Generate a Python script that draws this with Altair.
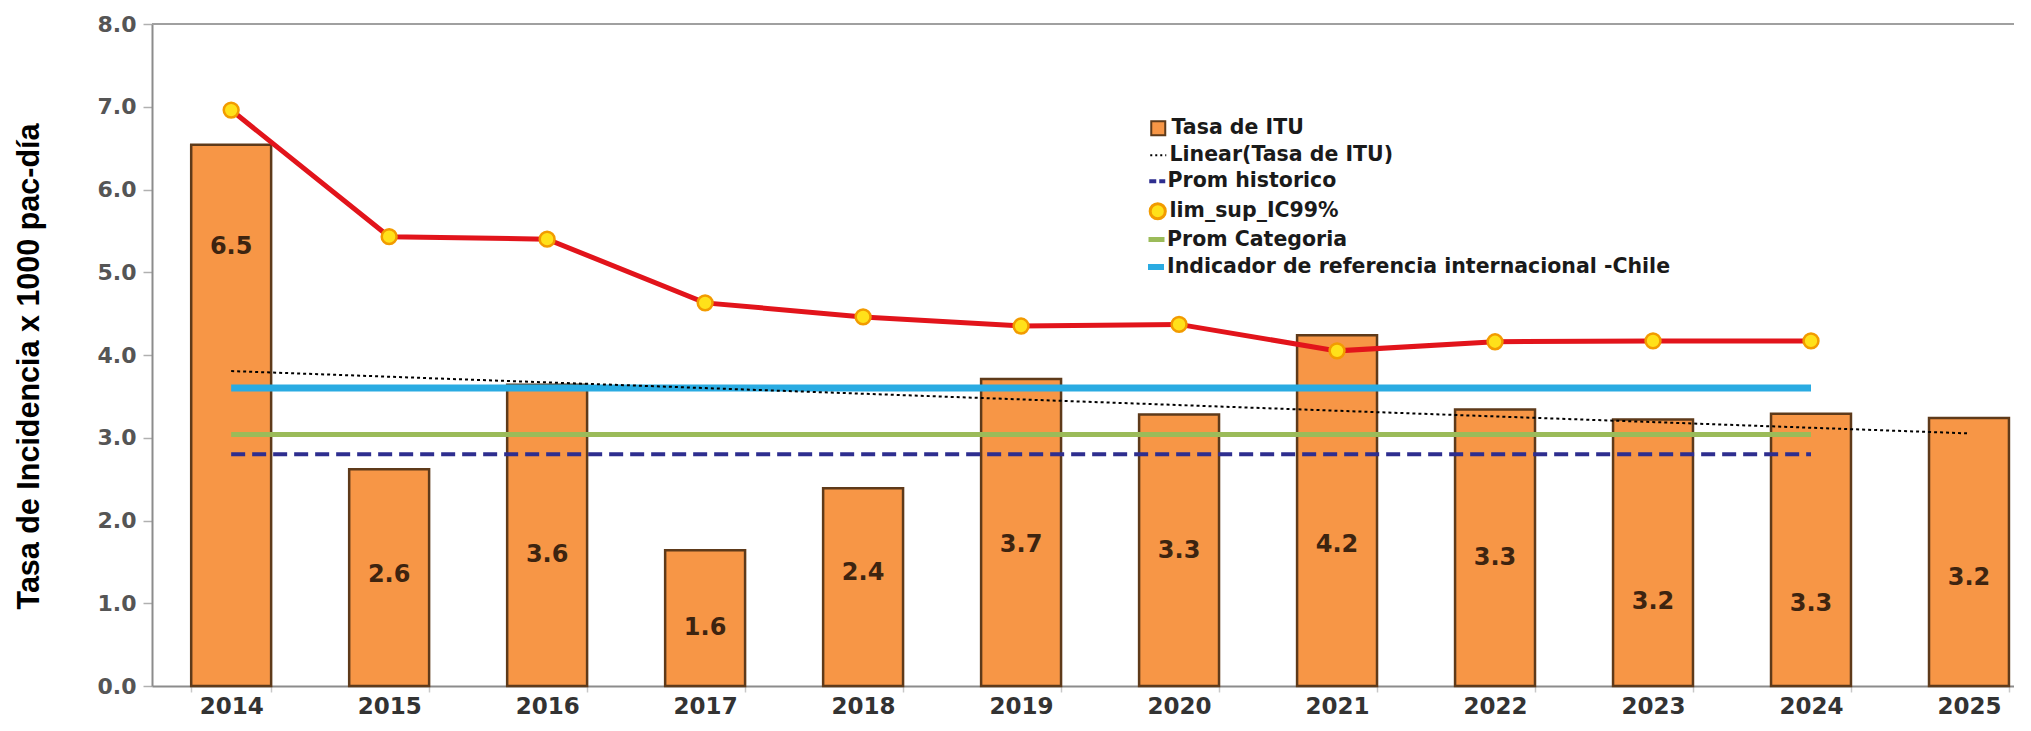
import altair as alt
import pandas as pd

# ---------------- data ----------------
years = [2014, 2015, 2016, 2017, 2018, 2019, 2020, 2021, 2022, 2023, 2024, 2025]
tasa_itu = [6.54, 2.62, 3.64, 1.64, 2.39, 3.71, 3.28, 4.24, 3.34, 3.22, 3.29, 3.24]
label_y = [5.30, 1.34, 1.58, 0.70, 1.37, 1.70, 1.63, 1.70, 1.55, 1.01, 0.99, 1.31]

lim_years = [2014, 2015, 2016, 2017, 2018, 2019, 2020, 2021, 2022, 2023, 2024]
lim_sup = [6.96, 5.43, 5.40, 4.63, 4.46, 4.35, 4.37, 4.05, 4.16, 4.17, 4.17]

ref_years = [2014, 2015, 2016, 2017, 2018, 2019, 2020, 2021, 2022, 2023, 2024]
prom_historico = 2.80
prom_categoria = 3.04
indicador_chile = 3.60

series = [
    "Tasa de ITU",
    "Linear(Tasa de ITU)",
    "Prom historico",
    "lim_sup_IC99%",
    "Prom Categoria",
    "Indicador de referencia internacional -Chile",
]
y_ticks = [0, 1, 2, 3, 4, 5, 6, 7, 8]
y_title = "Tasa de Incidencia x 1000 pac-día"

# ---------------- frames ----------------
bars_df = pd.DataFrame({"yr": years, "val": tasa_itu, "lab_y": label_y, "serie": series[0]})
lim_df = pd.DataFrame({"yr": lim_years, "val": lim_sup, "serie": series[3]})
hist_df = pd.DataFrame({"yr": ref_years, "val": [prom_historico] * len(ref_years), "serie": series[2]})
cat_df = pd.DataFrame({"yr": ref_years, "val": [prom_categoria] * len(ref_years), "serie": series[4]})
ind_df = pd.DataFrame({"yr": ref_years, "val": [indicador_chile] * len(ref_years), "serie": series[5]})

FONT = "Liberation Sans"
WIDE = "DejaVu Sans"

x_scale = alt.Scale(paddingInner=0.494, paddingOuter=0.14, align=0.886)
x_axis = alt.Axis(
    labelFont=WIDE, labelFontSize=23, labelFontWeight="bold", labelColor="#333333",
    labelAngle=0, labelPadding=3, tickBand="extent", tickSize=6, tickColor="#c8c8c8",
    tickWidth=1.5, domainColor="#8c8c8c", domainWidth=2,
)
y_scale = alt.Scale(domain=[0, 8], nice=False, zero=True)
y_axis = alt.Axis(
    values=y_ticks, format=".1f", labelFont=WIDE, labelFontSize=22, labelFontWeight="bold",
    labelColor="#555555", labelPadding=7, tickSize=9, tickColor="#b0b0b0", tickWidth=1.5,
    domainColor="#8c8c8c", domainWidth=2, grid=False,
    titleFont=FONT, titleFontSize=30.5, titleFontWeight="bold", titleColor="#000000",
    titleAngle=270, titleAlign="center", titleBaseline="alphabetic", titleX=-114, titleY=342,
)


def X():
    return alt.X("yr:O", scale=x_scale, axis=x_axis, title=None)


def Y(field="val"):
    return alt.Y(f"{field}:Q", scale=y_scale, axis=y_axis, title=y_title)


row_centers = [105, 132, 158, 188, 216, 243]
SYM_LEFT = 997
LABEL_LEFT = 1015


def leg(i, sym_w, sw, **kw):
    lx = SYM_LEFT - sw / 2
    off = LABEL_LEFT - lx - (sym_w + sw)
    if off < 0:
        lx = LABEL_LEFT - (sym_w + sw)
        off = 0
    return alt.Legend(
        orient="none", legendX=lx, legendY=row_centers[i] - 11,
        labelFont=WIDE, labelFontSize=20.5, labelFontWeight="bold", labelColor="#1a1a1a",
        labelLimit=800, labelOffset=off, padding=0,
        symbolStrokeWidth=sw, **kw,
    )


bars = alt.Chart(bars_df).mark_bar(stroke="#5E3A1A", strokeWidth=2.5).encode(
    x=X(), y=Y(),
    color=alt.Color("serie:N", scale=alt.Scale(domain=[series[0]], range=["#F79646"]), title=None,
                    legend=leg(0, 14, 2, symbolType="square", symbolSize=196,
                               symbolStrokeColor="#5E3A1A")),
)

labels = alt.Chart(bars_df).mark_text(
    font=WIDE, fontSize=24, fontWeight="bold", color="#3D2410", baseline="middle", align="center"
).encode(x=X(), y=Y("lab_y"), text=alt.Text("val:Q", format=".1f"))

cat_line = alt.Chart(cat_df).mark_line(strokeWidth=5).encode(
    x=X(), y=Y(),
    color=alt.Color("serie:N", scale=alt.Scale(domain=[series[4]], range=["#9BBB59"]), title=None,
                    legend=leg(4, 16, 5, symbolType="stroke", symbolSize=256)),
)

hist_line = alt.Chart(hist_df).mark_line(strokeWidth=4, strokeDash=[14, 7]).encode(
    x=X(), y=Y(),
    color=alt.Color("serie:N", scale=alt.Scale(domain=[series[2]], range=["#2E2E8F"]), title=None,
                    legend=leg(2, 16, 4, symbolType="stroke", symbolSize=256, symbolDash=[7, 3])),
)

ind_line = alt.Chart(ind_df).mark_line(strokeWidth=7).encode(
    x=X(), y=Y(),
    color=alt.Color("serie:N", scale=alt.Scale(domain=[series[5]], range=["#2AABE2"]), title=None,
                    legend=leg(5, 16, 6, symbolType="stroke", symbolSize=256)),
)

trend = (
    alt.Chart(bars_df)
    .transform_regression("yr", "val")
    .transform_filter("datum.yr == round(datum.yr)")
    .transform_calculate(serie="'Linear(Tasa de ITU)'")
    .mark_line(strokeWidth=2, strokeDash=[3, 3])
    .encode(
        x=X(), y=Y(),
        color=alt.Color("serie:N", scale=alt.Scale(domain=[series[1]], range=["#000000"]), title=None,
                        legend=leg(1, 16, 2, symbolType="stroke", symbolSize=256, symbolDash=[2, 3])),
    )
)

lim_line = alt.Chart(lim_df).mark_line(strokeWidth=5, color="#E2141B").encode(x=X(), y=Y())

lim_pts = alt.Chart(lim_df).mark_point(
    filled=True, size=220, stroke="#F29B00", strokeWidth=2.5, opacity=1
).encode(
    x=X(), y=Y(),
    fill=alt.Fill("serie:N", scale=alt.Scale(domain=[series[3]], range=["#FFE11A"]), title=None,
                  legend=leg(3, 15, 3, symbolType="circle", symbolSize=230,
                             symbolStrokeColor="#F29B00")),
)

top_rule = alt.Chart(bars_df).mark_rule(color="#a0a0a0", strokeWidth=2).encode(
    y=alt.datum(y_ticks[-1], scale=y_scale)
)

chart = (
    alt.layer(bars, labels, cat_line, hist_line, ind_line, trend, lim_line, lim_pts, top_rule)
    .resolve_scale(color="independent", fill="independent")
    .resolve_legend(color="independent", fill="independent")
    .properties(
        width=1862, height=662,
        autosize=alt.AutoSizeParams(type="none"),
        padding={"left": 144, "top": 16, "right": 0, "bottom": 34},
    )
    .configure_view(strokeWidth=0)
    .configure(background="white")
)

chart.save("out.html", embed_options={"renderer": "svg", "actions": False})
